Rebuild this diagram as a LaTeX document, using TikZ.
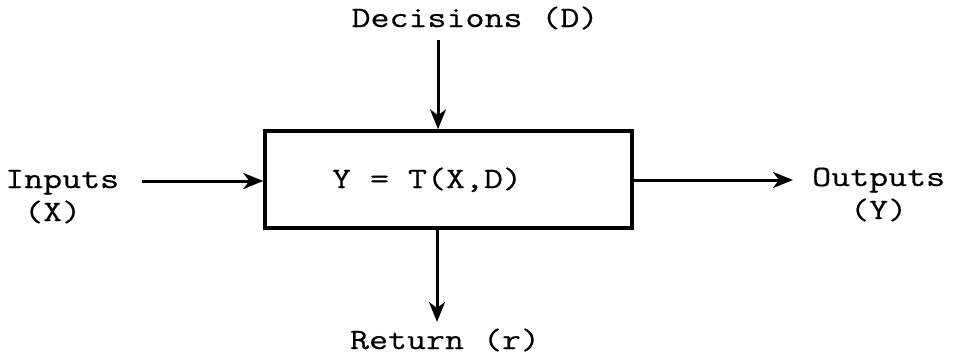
\documentclass[tikz,border=0pt]{standalone}
\usepackage{fontspec}
\setmonofont[FakeStretch=1.25,FakeBold=0.5]{Latin Modern Mono}
\usetikzlibrary{arrows.meta}
\begin{document}
\begin{tikzpicture}[x=1pt,y=-1pt,
  txt/.style={font=\ttfamily\fontsize{29.5}{33}\selectfont, inner sep=0pt},
  box/.style={draw, line width=3.4pt, minimum width=367pt, minimum height=97pt, inner sep=0pt},
  arr/.style={line width=3pt, -{Stealth[length=20pt,width=16pt,inset=6pt]}}]
\useasboundingbox (0,0) rectangle (954,362);
\node[box] (T) at (448.5,179.5) {};
\node[txt, anchor=base] (eq) at (427,188) {Y = T(X,D)};
\node[txt, anchor=base] (dec) at (475,27) {Decisions (D)};
\node[txt, anchor=base] (ret) at (445,349) {Return (r)};
\node[txt, anchor=base west, align=left] (in) at (5,221) {Inputs\\\ (X)};
\node[txt, anchor=base west, align=left] (out) at (812,219) {Outputs\\\ \ (Y)};
\coordinate (dtop) at (438,40);
\coordinate (rbot) at (437,322);
\coordinate (inL) at (142,181);
\coordinate (outR) at (793,180);
\draw[arr] (dtop) -- (dtop |- T.north);
\draw[arr] (rbot |- T.south) -- (rbot);
\draw[arr] (inL) -- (inL -| T.west);
\draw[arr] (outR -| T.east) -- (outR);
\end{tikzpicture}
\end{document}
